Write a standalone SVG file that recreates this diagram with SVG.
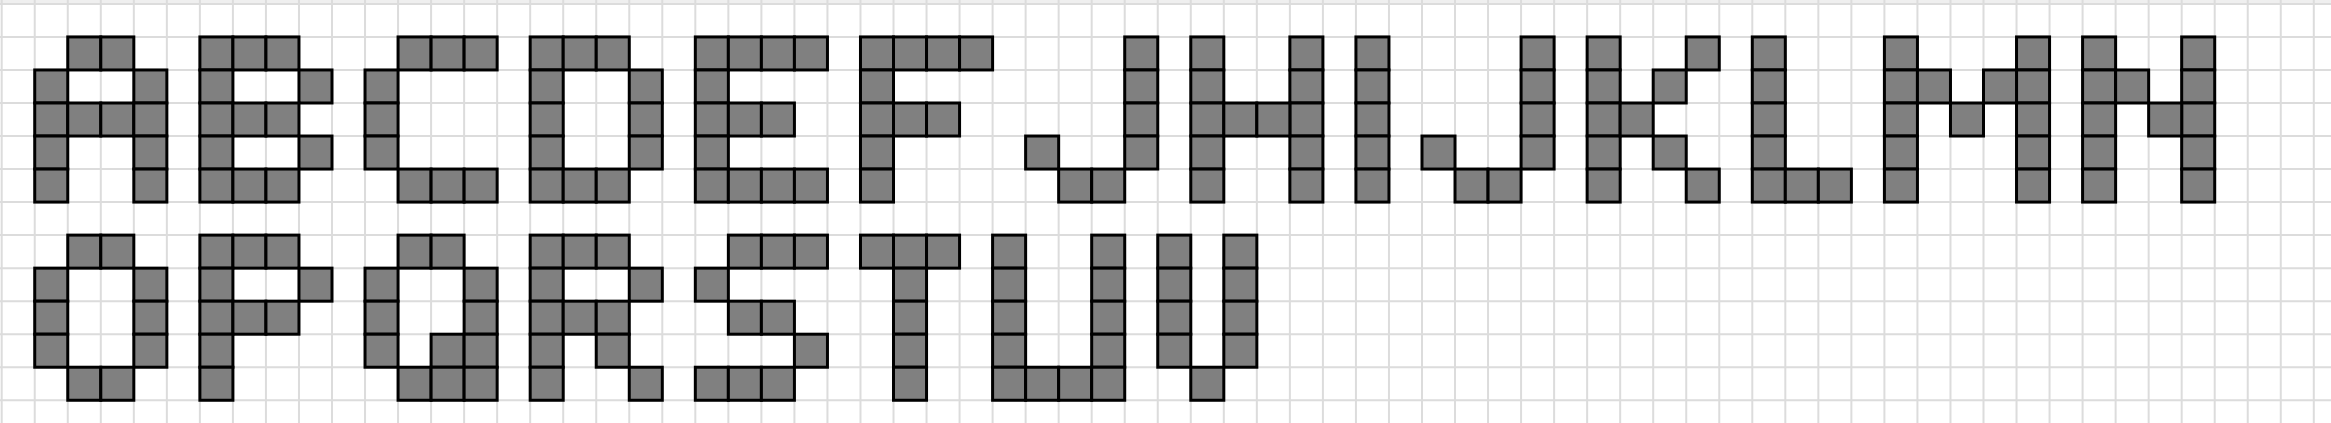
<svg xmlns="http://www.w3.org/2000/svg" width="2331" height="423" viewBox="0 0 2331 423">
<style>
.g{fill:none;stroke:#dcdcdc;stroke-width:0.0606}
.p{fill:#808080;stroke:#000;stroke-width:0.0908}
</style>
<rect width="2331" height="423" fill="#fff"/>
<rect width="2331" height="3" fill="#efefef"/>
<g transform="translate(1.7 3.9) scale(33.03)">
<path id="grid" class="g" d="M0 -0.2V12.7M1 -0.2V12.7M2 -0.2V12.7M3 -0.2V12.7M4 -0.2V12.7M5 -0.2V12.7M6 -0.2V12.7M7 -0.2V12.7M8 -0.2V12.7M9 -0.2V12.7M10 -0.2V12.7M11 -0.2V12.7M12 -0.2V12.7M13 -0.2V12.7M14 -0.2V12.7M15 -0.2V12.7M16 -0.2V12.7M17 -0.2V12.7M18 -0.2V12.7M19 -0.2V12.7M20 -0.2V12.7M21 -0.2V12.7M22 -0.2V12.7M23 -0.2V12.7M24 -0.2V12.7M25 -0.2V12.7M26 -0.2V12.7M27 -0.2V12.7M28 -0.2V12.7M29 -0.2V12.7M30 -0.2V12.7M31 -0.2V12.7M32 -0.2V12.7M33 -0.2V12.7M34 -0.2V12.7M35 -0.2V12.7M36 -0.2V12.7M37 -0.2V12.7M38 -0.2V12.7M39 -0.2V12.7M40 -0.2V12.7M41 -0.2V12.7M42 -0.2V12.7M43 -0.2V12.7M44 -0.2V12.7M45 -0.2V12.7M46 -0.2V12.7M47 -0.2V12.7M48 -0.2V12.7M49 -0.2V12.7M50 -0.2V12.7M51 -0.2V12.7M52 -0.2V12.7M53 -0.2V12.7M54 -0.2V12.7M55 -0.2V12.7M56 -0.2V12.7M57 -0.2V12.7M58 -0.2V12.7M59 -0.2V12.7M60 -0.2V12.7M61 -0.2V12.7M62 -0.2V12.7M63 -0.2V12.7M64 -0.2V12.7M65 -0.2V12.7M66 -0.2V12.7M67 -0.2V12.7M68 -0.2V12.7M69 -0.2V12.7M70 -0.2V12.7M-0.1 0H70.6M-0.1 1H70.6M-0.1 2H70.6M-0.1 3H70.6M-0.1 4H70.6M-0.1 5H70.6M-0.1 6H70.6M-0.1 7H70.6M-0.1 8H70.6M-0.1 9H70.6M-0.1 10H70.6M-0.1 11H70.6M-0.1 12H70.6"/>
<g id="A"><rect class="p" x="2" y="1" width="1" height="1"/><rect class="p" x="3" y="1" width="1" height="1"/><rect class="p" x="1" y="2" width="1" height="1"/><rect class="p" x="4" y="2" width="1" height="1"/><rect class="p" x="1" y="3" width="1" height="1"/><rect class="p" x="2" y="3" width="1" height="1"/><rect class="p" x="3" y="3" width="1" height="1"/><rect class="p" x="4" y="3" width="1" height="1"/><rect class="p" x="1" y="4" width="1" height="1"/><rect class="p" x="4" y="4" width="1" height="1"/><rect class="p" x="1" y="5" width="1" height="1"/><rect class="p" x="4" y="5" width="1" height="1"/></g>
<g id="B"><rect class="p" x="6" y="1" width="1" height="1"/><rect class="p" x="7" y="1" width="1" height="1"/><rect class="p" x="8" y="1" width="1" height="1"/><rect class="p" x="6" y="2" width="1" height="1"/><rect class="p" x="9" y="2" width="1" height="1"/><rect class="p" x="6" y="3" width="1" height="1"/><rect class="p" x="7" y="3" width="1" height="1"/><rect class="p" x="8" y="3" width="1" height="1"/><rect class="p" x="6" y="4" width="1" height="1"/><rect class="p" x="9" y="4" width="1" height="1"/><rect class="p" x="6" y="5" width="1" height="1"/><rect class="p" x="7" y="5" width="1" height="1"/><rect class="p" x="8" y="5" width="1" height="1"/></g>
<g id="C"><rect class="p" x="12" y="1" width="1" height="1"/><rect class="p" x="13" y="1" width="1" height="1"/><rect class="p" x="14" y="1" width="1" height="1"/><rect class="p" x="11" y="2" width="1" height="1"/><rect class="p" x="11" y="3" width="1" height="1"/><rect class="p" x="11" y="4" width="1" height="1"/><rect class="p" x="12" y="5" width="1" height="1"/><rect class="p" x="13" y="5" width="1" height="1"/><rect class="p" x="14" y="5" width="1" height="1"/></g>
<g id="D"><rect class="p" x="16" y="1" width="1" height="1"/><rect class="p" x="17" y="1" width="1" height="1"/><rect class="p" x="18" y="1" width="1" height="1"/><rect class="p" x="16" y="2" width="1" height="1"/><rect class="p" x="19" y="2" width="1" height="1"/><rect class="p" x="16" y="3" width="1" height="1"/><rect class="p" x="19" y="3" width="1" height="1"/><rect class="p" x="16" y="4" width="1" height="1"/><rect class="p" x="19" y="4" width="1" height="1"/><rect class="p" x="16" y="5" width="1" height="1"/><rect class="p" x="17" y="5" width="1" height="1"/><rect class="p" x="18" y="5" width="1" height="1"/></g>
<g id="E"><rect class="p" x="21" y="1" width="1" height="1"/><rect class="p" x="22" y="1" width="1" height="1"/><rect class="p" x="23" y="1" width="1" height="1"/><rect class="p" x="24" y="1" width="1" height="1"/><rect class="p" x="21" y="2" width="1" height="1"/><rect class="p" x="21" y="3" width="1" height="1"/><rect class="p" x="22" y="3" width="1" height="1"/><rect class="p" x="23" y="3" width="1" height="1"/><rect class="p" x="21" y="4" width="1" height="1"/><rect class="p" x="21" y="5" width="1" height="1"/><rect class="p" x="22" y="5" width="1" height="1"/><rect class="p" x="23" y="5" width="1" height="1"/><rect class="p" x="24" y="5" width="1" height="1"/></g>
<g id="F"><rect class="p" x="26" y="1" width="1" height="1"/><rect class="p" x="27" y="1" width="1" height="1"/><rect class="p" x="28" y="1" width="1" height="1"/><rect class="p" x="29" y="1" width="1" height="1"/><rect class="p" x="26" y="2" width="1" height="1"/><rect class="p" x="26" y="3" width="1" height="1"/><rect class="p" x="27" y="3" width="1" height="1"/><rect class="p" x="28" y="3" width="1" height="1"/><rect class="p" x="26" y="4" width="1" height="1"/><rect class="p" x="26" y="5" width="1" height="1"/></g>
<g id="G"><rect class="p" x="34" y="1" width="1" height="1"/><rect class="p" x="34" y="2" width="1" height="1"/><rect class="p" x="34" y="3" width="1" height="1"/><rect class="p" x="31" y="4" width="1" height="1"/><rect class="p" x="34" y="4" width="1" height="1"/><rect class="p" x="32" y="5" width="1" height="1"/><rect class="p" x="33" y="5" width="1" height="1"/></g>
<g id="H"><rect class="p" x="36" y="1" width="1" height="1"/><rect class="p" x="36" y="2" width="1" height="1"/><rect class="p" x="36" y="3" width="1" height="1"/><rect class="p" x="36" y="4" width="1" height="1"/><rect class="p" x="36" y="5" width="1" height="1"/><rect class="p" x="39" y="1" width="1" height="1"/><rect class="p" x="39" y="2" width="1" height="1"/><rect class="p" x="39" y="3" width="1" height="1"/><rect class="p" x="39" y="4" width="1" height="1"/><rect class="p" x="39" y="5" width="1" height="1"/><rect class="p" x="37" y="3" width="1" height="1"/><rect class="p" x="38" y="3" width="1" height="1"/></g>
<g id="I"><rect class="p" x="41" y="1" width="1" height="1"/><rect class="p" x="41" y="2" width="1" height="1"/><rect class="p" x="41" y="3" width="1" height="1"/><rect class="p" x="41" y="4" width="1" height="1"/><rect class="p" x="41" y="5" width="1" height="1"/></g>
<g id="J"><rect class="p" x="46" y="1" width="1" height="1"/><rect class="p" x="46" y="2" width="1" height="1"/><rect class="p" x="46" y="3" width="1" height="1"/><rect class="p" x="43" y="4" width="1" height="1"/><rect class="p" x="46" y="4" width="1" height="1"/><rect class="p" x="44" y="5" width="1" height="1"/><rect class="p" x="45" y="5" width="1" height="1"/></g>
<g id="K"><rect class="p" x="48" y="1" width="1" height="1"/><rect class="p" x="48" y="2" width="1" height="1"/><rect class="p" x="48" y="3" width="1" height="1"/><rect class="p" x="48" y="4" width="1" height="1"/><rect class="p" x="48" y="5" width="1" height="1"/><rect class="p" x="51" y="1" width="1" height="1"/><rect class="p" x="50" y="2" width="1" height="1"/><rect class="p" x="49" y="3" width="1" height="1"/><rect class="p" x="50" y="4" width="1" height="1"/><rect class="p" x="51" y="5" width="1" height="1"/></g>
<g id="L"><rect class="p" x="53" y="1" width="1" height="1"/><rect class="p" x="53" y="2" width="1" height="1"/><rect class="p" x="53" y="3" width="1" height="1"/><rect class="p" x="53" y="4" width="1" height="1"/><rect class="p" x="53" y="5" width="1" height="1"/><rect class="p" x="54" y="5" width="1" height="1"/><rect class="p" x="55" y="5" width="1" height="1"/></g>
<g id="M"><rect class="p" x="57" y="1" width="1" height="1"/><rect class="p" x="57" y="2" width="1" height="1"/><rect class="p" x="57" y="3" width="1" height="1"/><rect class="p" x="57" y="4" width="1" height="1"/><rect class="p" x="57" y="5" width="1" height="1"/><rect class="p" x="61" y="1" width="1" height="1"/><rect class="p" x="61" y="2" width="1" height="1"/><rect class="p" x="61" y="3" width="1" height="1"/><rect class="p" x="61" y="4" width="1" height="1"/><rect class="p" x="61" y="5" width="1" height="1"/><rect class="p" x="58" y="2" width="1" height="1"/><rect class="p" x="60" y="2" width="1" height="1"/><rect class="p" x="59" y="3" width="1" height="1"/></g>
<g id="N"><rect class="p" x="63" y="1" width="1" height="1"/><rect class="p" x="63" y="2" width="1" height="1"/><rect class="p" x="63" y="3" width="1" height="1"/><rect class="p" x="63" y="4" width="1" height="1"/><rect class="p" x="63" y="5" width="1" height="1"/><rect class="p" x="66" y="1" width="1" height="1"/><rect class="p" x="66" y="2" width="1" height="1"/><rect class="p" x="66" y="3" width="1" height="1"/><rect class="p" x="66" y="4" width="1" height="1"/><rect class="p" x="66" y="5" width="1" height="1"/><rect class="p" x="64" y="2" width="1" height="1"/><rect class="p" x="65" y="3" width="1" height="1"/></g>
<g id="O"><rect class="p" x="2" y="7" width="1" height="1"/><rect class="p" x="3" y="7" width="1" height="1"/><rect class="p" x="1" y="8" width="1" height="1"/><rect class="p" x="4" y="8" width="1" height="1"/><rect class="p" x="1" y="9" width="1" height="1"/><rect class="p" x="4" y="9" width="1" height="1"/><rect class="p" x="1" y="10" width="1" height="1"/><rect class="p" x="4" y="10" width="1" height="1"/><rect class="p" x="2" y="11" width="1" height="1"/><rect class="p" x="3" y="11" width="1" height="1"/></g>
<g id="P"><rect class="p" x="6" y="7" width="1" height="1"/><rect class="p" x="7" y="7" width="1" height="1"/><rect class="p" x="8" y="7" width="1" height="1"/><rect class="p" x="6" y="8" width="1" height="1"/><rect class="p" x="9" y="8" width="1" height="1"/><rect class="p" x="6" y="9" width="1" height="1"/><rect class="p" x="7" y="9" width="1" height="1"/><rect class="p" x="8" y="9" width="1" height="1"/><rect class="p" x="6" y="10" width="1" height="1"/><rect class="p" x="6" y="11" width="1" height="1"/></g>
<g id="Q"><rect class="p" x="12" y="7" width="1" height="1"/><rect class="p" x="13" y="7" width="1" height="1"/><rect class="p" x="11" y="8" width="1" height="1"/><rect class="p" x="14" y="8" width="1" height="1"/><rect class="p" x="11" y="9" width="1" height="1"/><rect class="p" x="14" y="9" width="1" height="1"/><rect class="p" x="11" y="10" width="1" height="1"/><rect class="p" x="13" y="10" width="1" height="1"/><rect class="p" x="14" y="10" width="1" height="1"/><rect class="p" x="12" y="11" width="1" height="1"/><rect class="p" x="13" y="11" width="1" height="1"/><rect class="p" x="14" y="11" width="1" height="1"/></g>
<g id="R"><rect class="p" x="16" y="7" width="1" height="1"/><rect class="p" x="17" y="7" width="1" height="1"/><rect class="p" x="18" y="7" width="1" height="1"/><rect class="p" x="16" y="8" width="1" height="1"/><rect class="p" x="19" y="8" width="1" height="1"/><rect class="p" x="16" y="9" width="1" height="1"/><rect class="p" x="17" y="9" width="1" height="1"/><rect class="p" x="18" y="9" width="1" height="1"/><rect class="p" x="16" y="10" width="1" height="1"/><rect class="p" x="18" y="10" width="1" height="1"/><rect class="p" x="16" y="11" width="1" height="1"/><rect class="p" x="19" y="11" width="1" height="1"/></g>
<g id="S"><rect class="p" x="22" y="7" width="1" height="1"/><rect class="p" x="23" y="7" width="1" height="1"/><rect class="p" x="24" y="7" width="1" height="1"/><rect class="p" x="21" y="8" width="1" height="1"/><rect class="p" x="22" y="9" width="1" height="1"/><rect class="p" x="23" y="9" width="1" height="1"/><rect class="p" x="24" y="10" width="1" height="1"/><rect class="p" x="21" y="11" width="1" height="1"/><rect class="p" x="22" y="11" width="1" height="1"/><rect class="p" x="23" y="11" width="1" height="1"/></g>
<g id="T"><rect class="p" x="26" y="7" width="1" height="1"/><rect class="p" x="27" y="7" width="1" height="1"/><rect class="p" x="28" y="7" width="1" height="1"/><rect class="p" x="27" y="8" width="1" height="1"/><rect class="p" x="27" y="9" width="1" height="1"/><rect class="p" x="27" y="10" width="1" height="1"/><rect class="p" x="27" y="11" width="1" height="1"/></g>
<g id="U"><rect class="p" x="30" y="7" width="1" height="1"/><rect class="p" x="30" y="8" width="1" height="1"/><rect class="p" x="30" y="9" width="1" height="1"/><rect class="p" x="30" y="10" width="1" height="1"/><rect class="p" x="33" y="7" width="1" height="1"/><rect class="p" x="33" y="8" width="1" height="1"/><rect class="p" x="33" y="9" width="1" height="1"/><rect class="p" x="33" y="10" width="1" height="1"/><rect class="p" x="30" y="11" width="1" height="1"/><rect class="p" x="31" y="11" width="1" height="1"/><rect class="p" x="32" y="11" width="1" height="1"/><rect class="p" x="33" y="11" width="1" height="1"/></g>
<g id="V"><rect class="p" x="35" y="7" width="1" height="1"/><rect class="p" x="35" y="8" width="1" height="1"/><rect class="p" x="35" y="9" width="1" height="1"/><rect class="p" x="35" y="10" width="1" height="1"/><rect class="p" x="37" y="7" width="1" height="1"/><rect class="p" x="37" y="8" width="1" height="1"/><rect class="p" x="37" y="9" width="1" height="1"/><rect class="p" x="37" y="10" width="1" height="1"/><rect class="p" x="36" y="11" width="1" height="1"/></g>
</g>
</svg>
